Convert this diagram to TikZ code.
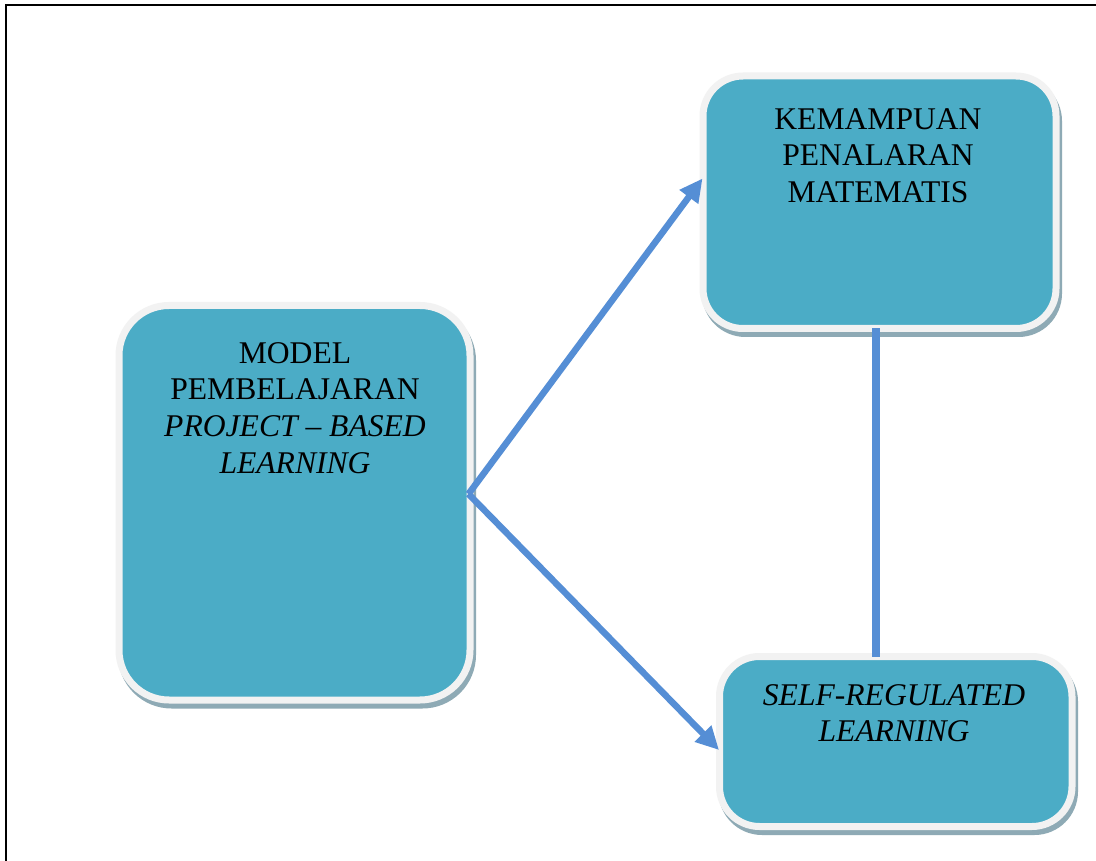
\documentclass[tikz,border=0pt]{standalone}
\usepackage{fontspec}
\setmainfont{Liberation Serif}
\usetikzlibrary{arrows.meta}
\definecolor{tealfill}{HTML}{4BACC6}
\definecolor{boxedge}{HTML}{F2F2F2}
\definecolor{shadowc}{HTML}{8EAAB5}
\definecolor{arrowblue}{HTML}{558ED5}
\begin{document}
\begin{tikzpicture}[x=1pt,y=-1pt,
  box/.style={rectangle, inner sep=0pt, outer sep=0pt, line width=7pt,
    draw=boxedge, fill=tealfill,
    preaction={draw=shadowc, fill=shadowc, line width=7pt,
      transform canvas={shift={(2.5pt,-5pt)}}}},
  label/.style={anchor=north, inner sep=0pt, align=center,
    font=\fontsize{31.6}{36.7}\selectfont, text=black},
  conn/.style={draw=arrowblue, line width=6.5pt},
  arr/.style={conn, -{Triangle[length=23pt,width=22pt]}}]
\useasboundingbox (0,0) rectangle (1096,861);
\fill[white] (0,0) rectangle (1096,861);
% outer frame
\draw[black, line width=2.8pt] (6,900) -- (6,5) -- (1120,5) -- (1120,900) -- cycle;
% boxes
\node[box, rounded corners=50pt, minimum width=351pt, minimum height=394.5pt]
  (model) at (294.5,502.75) {};
\node[box, rounded corners=40pt, minimum width=353pt, minimum height=252.5pt]
  (kem) at (879.5,202.25) {};
\node[box, rounded corners=40pt, minimum width=352.5pt, minimum height=170pt]
  (srl) at (895.75,741.5) {};
% texts
\node[label] (tmodel) at (295,338)
  {\rule{0pt}{25pt}MODEL\\PEMBELAJARAN\\\textit{PROJECT – BASED}\\\textit{LEARNING}};
\node[label] (tkem) at (878,104)
  {\rule{0pt}{25pt}KEMAMPUAN\\PENALARAN\\MATEMATIS};
\node[label] (tsrl) at (894,680)
  {\rule{0pt}{25pt}\textit{SELF-REGULATED}\\\textit{LEARNING}};
% connectors
\coordinate (apex) at (468.5,494);
\coordinate (tipA) at (702.5,178.5);
\coordinate (tipB) at (719,750);
\coordinate (vx) at (876,0);
\draw[arr] (apex) -- (tipA);
\draw[arr] (apex) -- (tipB);
\draw[conn, line width=8pt] (kem.south -| vx) -- (srl.north -| vx);
\end{tikzpicture}
\end{document}
